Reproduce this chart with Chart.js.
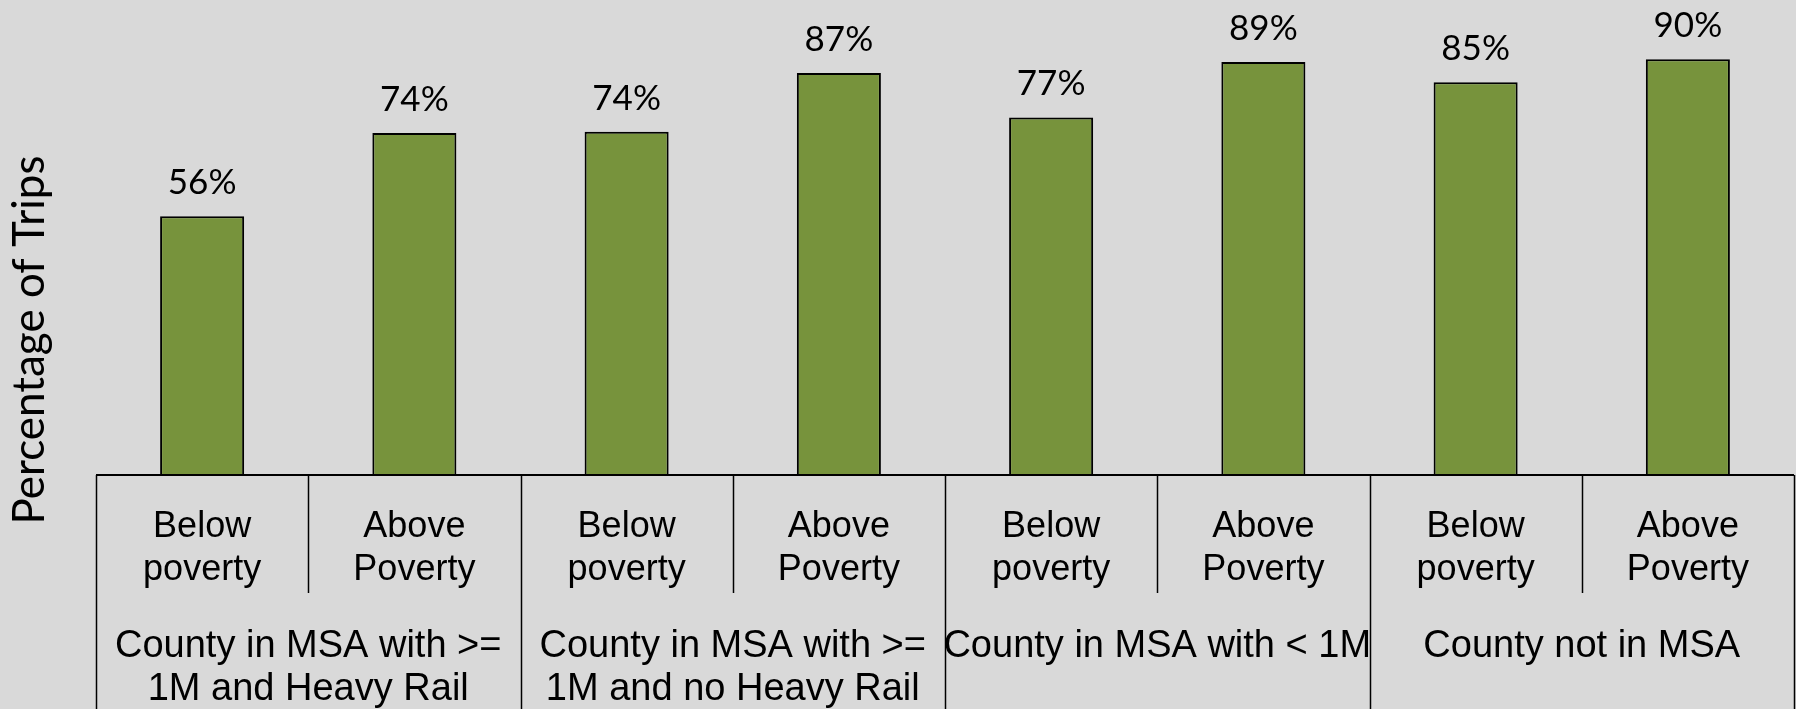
<!DOCTYPE html>
<html>
<head>
<meta charset="utf-8">
<script src="https://cdn.jsdelivr.net/npm/chart.js@4.4.1/dist/chart.umd.min.js"></script>
<style>
  html, body { margin: 0; padding: 0; background: #d9d9d9; }
  #wrap { width: 1796px; height: 709px; position: relative; }
</style>
</head>
<body>
<div id="wrap"><canvas id="tripsChart"></canvas></div>
<script>
// --- data ---
const categories = ['Below poverty', 'Above Poverty', 'Below poverty', 'Above Poverty',
                    'Below poverty', 'Above Poverty', 'Below poverty', 'Above Poverty'];
const categoryLines = [['Below', 'poverty'], ['Above', 'Poverty']];
const groups = [
    ['County in MSA with >=', '1M and Heavy Rail'],
    ['County in MSA with >=', '1M and no Heavy Rail'],
    ['County in MSA with < 1M'],
    ['County not in MSA']
];
const tripShare = [56, 74, 74.3, 87, 77.4, 89.4, 85, 90];
const yTitle = 'Percentage of Trips';

const labelFont = '36px "Liberation Sans", Arial, sans-serif';
const groupFont = '38px "Liberation Sans", Arial, sans-serif';
const valueFont = '35px Lato, "Liberation Sans", sans-serif';
const titleFont = '44px Lato, "Liberation Sans", sans-serif';

// draws the two-level category axis, the value labels and the y title
const axisPlugin = {
    id: 'twoLevelAxis',
    afterDraw(chart) {
        const ctx = chart.ctx;
        const area = chart.chartArea;
        const x = chart.scales.x;
        const half = (x.getPixelForValue(1) - x.getPixelForValue(0)) / 2;
        const bottom = area.bottom;

        ctx.save();
        ctx.strokeStyle = '#000';
        ctx.fillStyle = '#000';

        // axis line
        ctx.lineWidth = 2;
        ctx.beginPath();
        ctx.moveTo(area.left, bottom);
        ctx.lineTo(area.right, bottom);
        ctx.stroke();

        // separators
        ctx.lineWidth = 1.5;
        for (let i = 0; i <= categories.length; i++) {
            const bx = i < categories.length ? x.getPixelForValue(i) - half
                                             : x.getPixelForValue(i - 1) + half;
            const len = i % 2 === 0 ? chart.height - bottom : 118;
            ctx.beginPath();
            ctx.moveTo(Math.round(bx) + 0.5, bottom);
            ctx.lineTo(Math.round(bx) + 0.5, bottom + len);
            ctx.stroke();
        }

        // category labels
        ctx.font = labelFont;
        ctx.textAlign = 'center';
        ctx.textBaseline = 'alphabetic';
        categories.forEach((c, i) => {
            const cx = x.getPixelForValue(i);
            categoryLines[i % 2].forEach((line, j) => {
                ctx.fillText(line, cx, bottom + 62 + j * 43);
            });
        });

        // group labels
        ctx.font = groupFont;
        groups.forEach((g, k) => {
            const gx = (x.getPixelForValue(2 * k) + x.getPixelForValue(2 * k + 1)) / 2;
            g.forEach((line, j) => {
                ctx.fillText(line, gx, bottom + 182 + j * 43);
            });
        });

        // value labels
        ctx.font = valueFont;
        chart.getDatasetMeta(0).data.forEach((bar, i) => {
            ctx.fillText(Math.round(tripShare[i]) + '%', bar.x, bar.y - 22);
        });

        // y axis title
        ctx.font = titleFont;
        ctx.textBaseline = 'middle';
        ctx.translate(30, 340);
        ctx.rotate(-Math.PI / 2);
        ctx.fillText(yTitle, 0, 0);
        ctx.restore();
    }
};

const ctxBar = document.getElementById('tripsChart').getContext('2d');
new Chart(ctxBar, {
    type: 'bar',
    data: {
        labels: categories,
        datasets: [{
            data: tripShare,
            backgroundColor: '#77933c',
            borderColor: '#000',
            borderWidth: 2,
            borderSkipped: 'bottom',
            categoryPercentage: 1,
            barPercentage: 0.396
        }]
    },
    options: {
        responsive: true,
        maintainAspectRatio: false,
        animation: false,
        layout: { padding: { left: 96, right: 2, top: 13, bottom: 234 } },
        plugins: {
            legend: { display: false },
            tooltip: { enabled: false }
        },
        scales: {
            x: { display: false },
            y: { display: false, min: 0, max: 100 }
        }
    },
    plugins: [axisPlugin]
});
</script>
</body>
</html>
